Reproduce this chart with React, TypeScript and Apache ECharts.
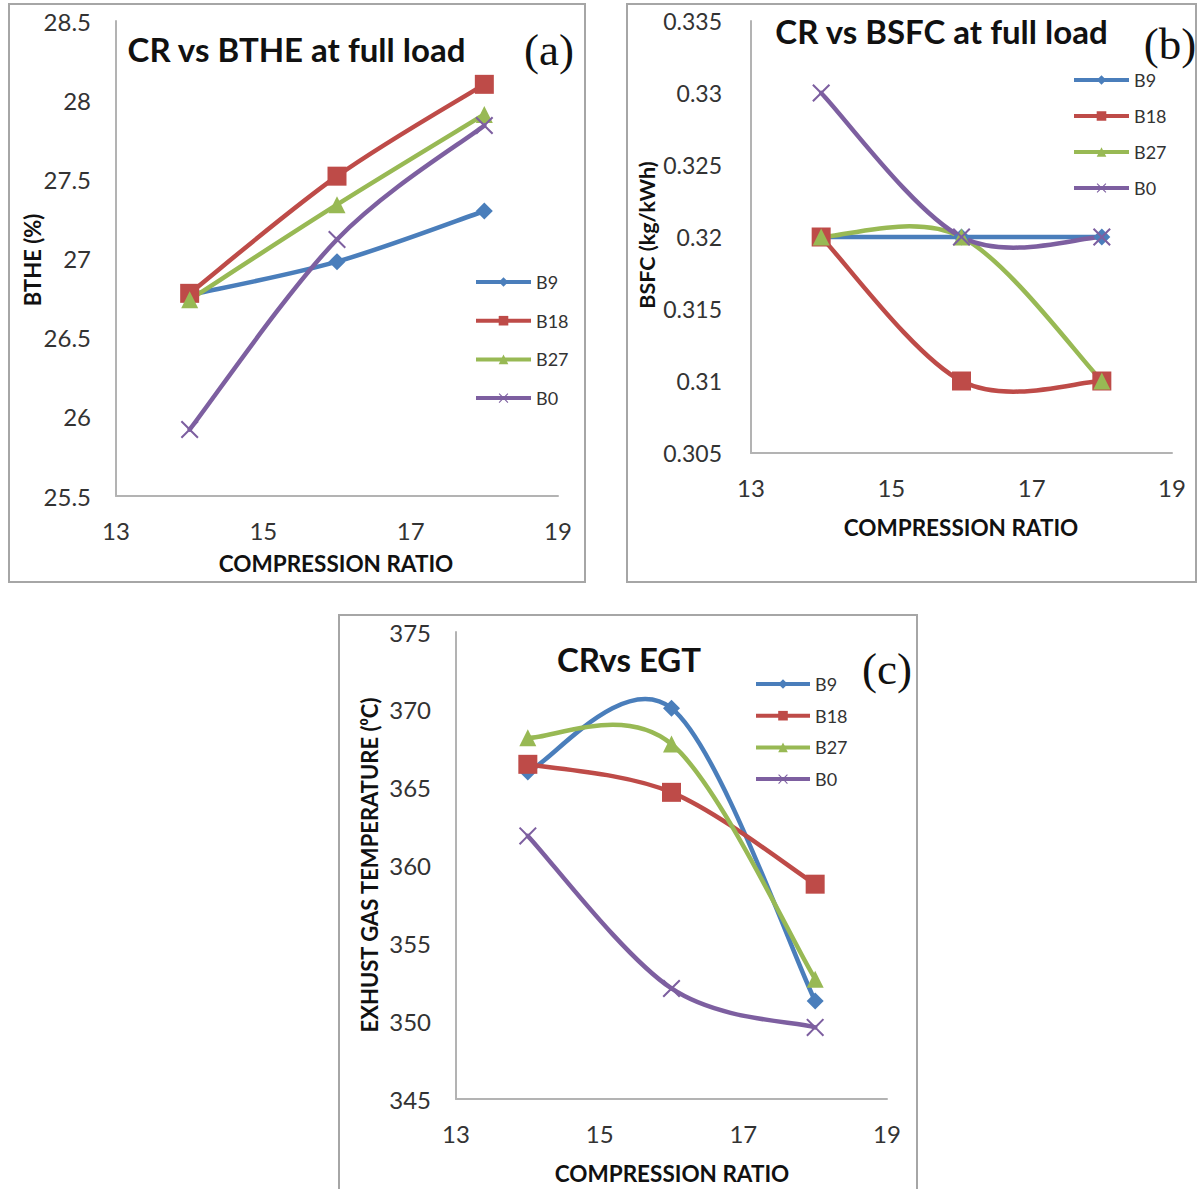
import React, { useEffect, useRef } from "react";
import * as echarts from "echarts";

// ---- data ----
const CR = [14, 16, 18];
const SERIES_NAMES = ["B9", "B18", "B27", "B0"];

const bthe_B9 = [26.77, 26.98, 27.3];
const bthe_B18 = [26.78, 27.52, 28.1];
const bthe_B27 = [26.74, 27.34, 27.91];
const bthe_B0 = [25.92, 27.12, 27.84];

const bsfc_B9 = [0.32, 0.32, 0.32];
const bsfc_B18 = [0.32, 0.31, 0.31];
const bsfc_B27 = [0.32, 0.32, 0.31];
const bsfc_B0 = [0.33, 0.32, 0.32];

const egt_B9 = [366, 370.1, 351.3];
const egt_B18 = [366.5, 364.7, 358.8];
const egt_B27 = [368.2, 367.8, 352.7];
const egt_B0 = [361.9, 352.1, 349.6];

const xTicks = { min: 13, max: 19, interval: 2 };
const btheTicks = { min: 25.5, max: 28.5, interval: 0.5 };
const bsfcTicks = { min: 0.305, max: 0.335, interval: 0.005 };
const egtTicks = { min: 345, max: 375, interval: 5 };

const COLORS = ["#4A7EBB", "#BE4B48", "#98B954", "#7D5FA0"];
const CROSS =
  "path://M0,0.8L0.8,0L5,4.2L9.2,0L10,0.8L5.8,5L10,9.2L9.2,10L5,5.8L0.8,10L0,9.2L4.2,5Z";
const SYMBOLS = ["diamond", "rect", "triangle", CROSS];
const SYMBOL_SIZES = [17, 19, 17, 18];

const FONT = "Lato, 'Open Sans', sans-serif";

export default function App() {
  const ref = useRef<HTMLDivElement>(null);

  useEffect(() => {
    if (!ref.current) return;
    const chart = echarts.init(ref.current, undefined, { renderer: "svg" });

    const panels = [
      { data: [bthe_B9, bthe_B18, bthe_B27, bthe_B0], ticks: btheTicks, fmt: (v: number) => String(parseFloat(v.toFixed(1))), labelMargin: 25 },
      { data: [bsfc_B9, bsfc_B18, bsfc_B27, bsfc_B0], ticks: bsfcTicks, fmt: (v: number) => String(parseFloat(v.toFixed(3))), labelMargin: 29 },
      { data: [egt_B9, egt_B18, egt_B27, egt_B0], ticks: egtTicks, fmt: (v: number) => String(Math.round(v)), labelMargin: 25 },
    ];

    const grids = [
      { left: 116, top: 21, width: 442, height: 475 },
      { left: 751, top: 21, width: 421, height: 432 },
      { left: 456, top: 632, width: 431, height: 467 },
    ];

    const axisLine = { show: true, lineStyle: { color: "#b3b3b3", width: 2 } };
    const axisLabelStyle = { color: "#333333", fontSize: 24, fontFamily: FONT };

    const xAxis = grids.map((_, i) => ({
      type: "value",
      gridIndex: i,
      min: xTicks.min,
      max: xTicks.max,
      interval: xTicks.interval,
      axisLine,
      axisTick: { show: false },
      splitLine: { show: false },
      axisLabel: { ...axisLabelStyle, margin: 22 },
    }));

    const yAxis = panels.map((p, i) => ({
      type: "value",
      gridIndex: i,
      min: p.ticks.min,
      max: p.ticks.max,
      interval: p.ticks.interval,
      axisLine,
      axisTick: { show: false },
      splitLine: { show: false },
      axisLabel: {
        ...axisLabelStyle,
        fontSize: i === 1 ? 23 : 24,
        margin: p.labelMargin,
        formatter: p.fmt,
      },
    }));

    const series: any[] = [];
    panels.forEach((p, pi) => {
      // smoothed curves (Excel-style Catmull-Rom), drawn through the axes' coords
      p.data.forEach((arr, si) => {
        series.push({
          type: "custom",
          name: SERIES_NAMES[si] + "-curve",
          xAxisIndex: pi,
          yAxisIndex: pi,
          silent: true,
          clip: false,
          z: 2 + si,
          data: CR.map((x, k) => [x, arr[k]]),
          encode: { x: 0, y: 1 },
          renderItem: (params: any, api: any) => {
            const k = params.dataIndex;
            const n = arr.length;
            if (k >= n - 1) return { type: "group", children: [] };
            const pts = arr.map((v, i) => api.coord([CR[i], v]));
            const p0 = pts[Math.max(k - 1, 0)];
            const p1 = pts[k];
            const p2 = pts[k + 1];
            const p3 = pts[Math.min(k + 2, n - 1)];
            return {
              type: "bezierCurve",
              shape: {
                x1: p1[0],
                y1: p1[1],
                x2: p2[0],
                y2: p2[1],
                cpx1: p1[0] + (p2[0] - p0[0]) / 6,
                cpy1: p1[1] + (p2[1] - p0[1]) / 6,
                cpx2: p2[0] - (p3[0] - p1[0]) / 6,
                cpy2: p2[1] - (p3[1] - p1[1]) / 6,
              },
              style: { stroke: COLORS[si], lineWidth: 4.5, fill: "none", lineCap: "round" },
            };
          },
        });
      });
      // markers (line series with invisible line, also feeds the legend)
      p.data.forEach((arr, si) => {
        series.push({
          type: "line",
          name: SERIES_NAMES[si],
          xAxisIndex: pi,
          yAxisIndex: pi,
          data: CR.map((x, k) => [x, arr[k]]),
          symbol: SYMBOLS[si],
          symbolSize: SYMBOL_SIZES[si],
          showAllSymbol: true,
          lineStyle: { color: COLORS[si], width: 4, opacity: 0 },
          itemStyle: { color: COLORS[si], borderWidth: 0 },
          z: 10 + si,
        });
      });
    });

    const legendBase = {
      orient: "vertical",
      itemHeight: 12,
      textStyle: { color: "#333333", fontSize: 18, lineHeight: 18, fontFamily: FONT },
      lineStyle: { opacity: 1, width: 4 },
      data: SERIES_NAMES,
      selectedMode: false,
    };
    const legend = [
      { ...legendBase, left: 469, top: 268, itemWidth: 55, itemGap: 20.7 },
      { ...legendBase, left: 1067, top: 66, itemWidth: 55, itemGap: 18 },
      { ...legendBase, left: 749, top: 670, itemWidth: 54, itemGap: 13.7 },
    ];

    const box = (x: number, y: number, w: number, h: number) => ({
      type: "rect",
      silent: true,
      z: 0,
      shape: { x, y, width: w, height: h },
      style: { fill: "none", stroke: "#a6a6a6", lineWidth: 2 },
    });
    const txt = (
      text: string,
      x: number,
      y: number,
      size: number,
      weight: string,
      family: string,
      rotation = 0
    ) => ({
      type: "text",
      silent: true,
      x,
      y,
      rotation,
      z: 10,
      style: {
        text,
        fontSize: size,
        fontWeight: weight,
        fontFamily: family,
        fill: "#111111",
        align: "center",
        verticalAlign: "middle",
      },
    });
    const SERIF = "'Liberation Serif', 'DejaVu Serif', serif";

    const graphic = [
      box(9, 4, 576, 578),
      box(627, 4, 569, 578),
      box(339, 615, 578, 590),
      txt("CR vs BTHE at full load", 296.5, 49, 33, "bold", FONT),
      txt("CR vs BSFC at full load", 941.5, 31, 33, "bold", FONT),
      txt("CRvs EGT", 629, 659, 33, "bold", FONT),
      txt("(a)", 549, 50, 45, "normal", SERIF),
      txt("(b)", 1170, 44, 45, "normal", SERIF),
      txt("(c)", 887, 669, 45, "normal", SERIF),
      txt("BTHE (%)", 32.5, 260, 22, "bold", FONT, Math.PI / 2),
      txt("BSFC (kg/kWh)", 647, 235, 21.5, "bold", FONT, Math.PI / 2),
      txt("EXHUST GAS TEMPERATURE (⁰C)", 369, 865, 22, "bold", FONT, Math.PI / 2),
      txt("COMPRESSION RATIO", 336, 563, 22.5, "bold", FONT),
      txt("COMPRESSION RATIO", 961, 527, 22.5, "bold", FONT),
      txt("COMPRESSION RATIO", 672, 1173, 22.5, "bold", FONT),
    ];

    chart.setOption({
      animation: false,
      backgroundColor: "#ffffff",
      grid: grids.map((g) => ({ ...g, containLabel: false })),
      xAxis,
      yAxis,
      series,
      legend,
      graphic,
    });

    return () => chart.dispose();
  }, []);

  return (
    <div
      ref={ref}
      style={{ position: "absolute", left: 0, top: 0, width: 1198, height: 1189 }}
    />
  );
}
